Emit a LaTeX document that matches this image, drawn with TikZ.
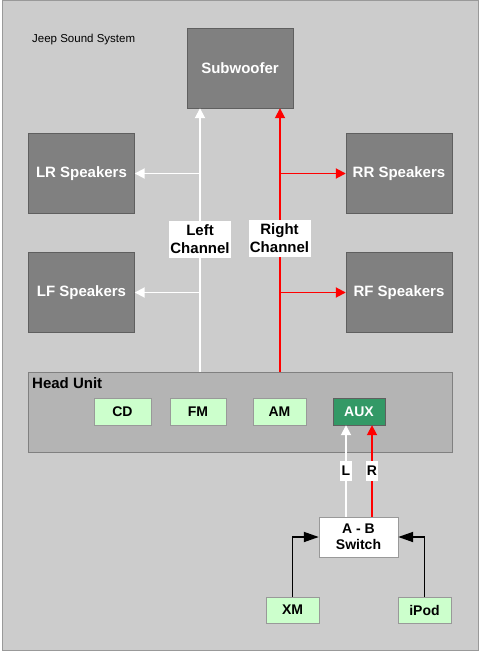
\documentclass[tikz,border=0pt]{standalone}
\usepackage{fontspec}
\setmainfont{Liberation Sans}
\usetikzlibrary{arrows.meta}

\definecolor{bggray}{HTML}{CCCCCC}
\definecolor{frameedge}{HTML}{999999}
\definecolor{boxgray}{HTML}{808080}
\definecolor{boxedge}{HTML}{5F5F5F}
\definecolor{unitgray}{HTML}{B4B4B4}
\definecolor{unitedge}{HTML}{808080}
\definecolor{srcgreen}{HTML}{CCFFCC}
\definecolor{auxgreen}{HTML}{339966}
\definecolor{rchan}{HTML}{FF0000}

\newcommand{\bigtxt}{\fontsize{15}{18}\selectfont\bfseries}
\newcommand{\smltxt}{\fontsize{14}{16}\selectfont\bfseries}

\tikzset{
    spk/.style={draw=boxedge, fill=boxgray, text=white, font=\bigtxt,
        minimum width=106pt, minimum height=80pt, inner sep=0pt},
    srcbox/.style={draw=frameedge, fill=srcgreen, font=\smltxt,
        minimum height=27pt, inner sep=0pt},
    chlbl/.style={fill=white, font=\bigtxt, align=center, inner sep=1pt,
        minimum width=62pt, minimum height=37pt},
    lrlbl/.style={fill=white, font=\smltxt, inner sep=0pt,
        minimum width=12pt, minimum height=20pt},
    wline/.style={draw=white, line width=1.8pt, -{Triangle[length=10pt, width=10pt]}},
    rline/.style={draw=rchan, line width=1.8pt, -{Triangle[length=10pt, width=10pt]}},
    kline/.style={draw=black, line width=1.8pt, -{Triangle[length=15pt, width=10pt]}},
}

\newcommand{\sn}{\node[spk]}
\newcommand{\gn}{\node[srcbox]}

\begin{document}
\begin{tikzpicture}[x=1pt, y=-1pt]
            \useasboundingbox (0,0) rectangle (480,652);
            \draw[frameedge, fill=bggray, line width=1pt] (2,1) rectangle (478,650);
            \node[anchor=west, font=\fontsize{11.5}{13}\selectfont, inner sep=0pt] (title) at (32,40) {Jeep Sound System};

            \sn (sub) at (240,68) {Subwoofer};
            \sn (lr) at (81.5,173.5) {LR Speakers};
            \sn (rr) at (399,173.5) {RR Speakers};
            \sn (lf) at (81.5,292.5) {LF Speakers};
            \sn (rf) at (399,292.5) {RF Speakers};

            \node[draw=unitedge, fill=unitgray, line width=0.75pt,
                minimum width=424pt, minimum height=80pt] (hu) at (240,412) {};
            \node[anchor=west, font=\bigtxt, inner sep=0pt] (hulbl) at (32,383) {Head Unit};
            \gn[minimum width=57pt] (cd) at (122.5,411.5) {CD};
            \gn[minimum width=56pt] (fm) at (198,411.5) {FM};
            \gn[minimum width=53pt] (am) at (279.5,411.5) {AM};
            \gn[minimum width=52pt, fill=auxgreen, draw=boxedge, text=white] (aux) at (359,411.5) {AUX};

            \node[draw=frameedge, fill=white, font=\smltxt, align=center, inner sep=0pt,
                minimum width=79pt, minimum height=40pt] (sw) at (358.5,537) {A - B\\Switch};
            \gn[minimum width=53pt, minimum height=26pt] (xm) at (292.5,610) {XM};
            \gn[minimum width=53pt, minimum height=26pt] (ipod) at (424.5,610) {iPod};

            \coordinate (lx) at (200,0);
            \coordinate (rx) at (280,0);
            \coordinate (alx) at (346,0);
            \coordinate (arx) at (372,0);

            % left and right channel
            \draw[wline] (hu.north -| lx) -- (sub.south -| lx);
            \draw[wline] (lx |- lr) -- (lr.east);
            \draw[wline] (lx |- lf) -- (lf.east);
            \draw[rline] (hu.north -| rx) -- (sub.south -| rx);
            \draw[rline] (rx |- rr) -- (rr.west);
            \draw[rline] (rx |- rf) -- (rf.west);

            \node[chlbl] (lch) at (200,239) {Left\\Channel};
            \node[chlbl] (rch) at (279.5,238.5) {Right\\Channel};

            % switch to aux input
            \draw[wline] (sw.north -| alx) -- (aux.south -| alx);
            \draw[rline] (sw.north -| arx) -- (aux.south -| arx);
            \node[lrlbl] (llbl) at (346,471) {L};
            \node[lrlbl] (rlbl) at (372,471) {R};

            \draw[kline] (xm.north) |- (sw.west);
            \draw[kline] (ipod.north) |- (sw.east);

        \end{tikzpicture}
\end{document}
